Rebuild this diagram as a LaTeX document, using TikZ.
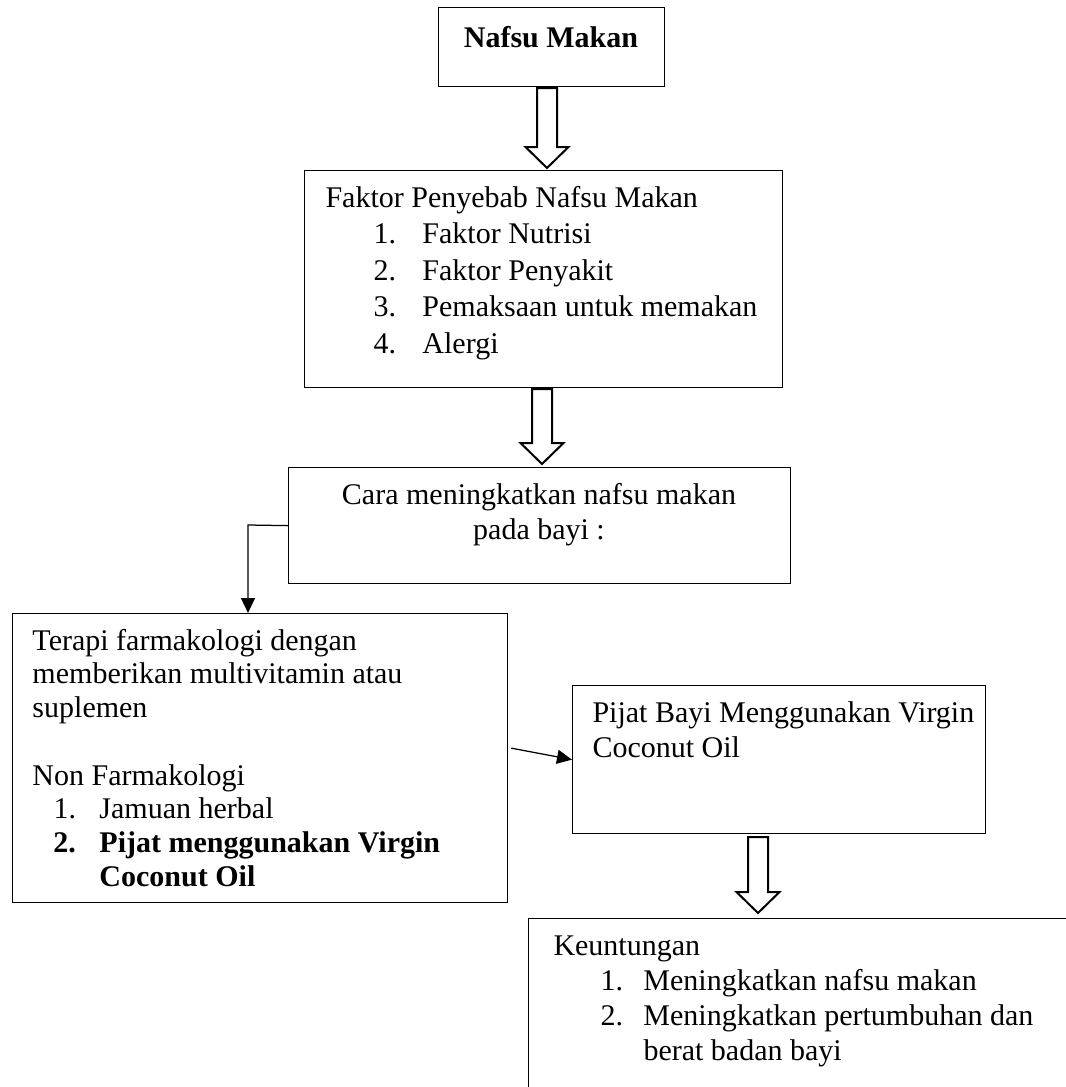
\documentclass[tikz,border=0pt]{standalone}
\usepackage{fontspec}
\setmainfont{Liberation Serif}
\usetikzlibrary{arrows.meta, positioning, calc}
\newdimen\pxu \pxu=0.4pt
\newcommand{\numitem}[4]{\hspace*{#1\pxu}\makebox[\dimexpr#2\pxu-#1\pxu\relax][l]{#3}#4}
\newcommand{\lines}[1]{\begin{tabular}[t]{@{}l@{}}#1\end{tabular}}

\begin{document}
\begin{tikzpicture}[x=0.4pt, y=-0.4pt,
    box/.style={draw, line width=0.5pt, inner sep=0pt, anchor=north west},
    txt/.style={inner sep=0pt, anchor=base west, font=\fontsize{12pt}{14pt}\selectfont},
    pointer/.style={line width=0.5pt, -{Triangle[length=6pt, width=5.6pt]}},
    hollow/.style={draw, line width=0.8pt, fill=white, line join=miter}]
  \clip (0,0) rectangle (1066,1087);
  % boxes
  \node[box, minimum width=90.4pt, minimum height=31.6pt] (nafsu) at (438,7) {};
  \node[box, minimum width=191.2pt, minimum height=86.8pt] (faktor) at (304,170) {};
  \node[box, minimum width=200.8pt, minimum height=46.4pt] (cara) at (288,467) {};
  \node[box, minimum width=198pt, minimum height=115.6pt] (terapi) at (12,613) {};
  \node[box, minimum width=165.2pt, minimum height=59.2pt] (pijat) at (572,685) {};
  \node[box, minimum width=224pt, minimum height=80pt] (untung) at (528,918) {};
  % texts
  \node[txt, anchor=base] (nafsuTxt) at (551,47) {\textbf{Nafsu Makan}};
  \node[txt, font=\fontsize{12pt}{14.6pt}\selectfont] (faktorTxt) at (325,207) {\lines{Faktor Penyebab Nafsu Makan\\
      \numitem{48}{97}{1.}{Faktor Nutrisi}\\
      \numitem{48}{97}{2.}{Faktor Penyakit}\\
      \numitem{48}{97}{3.}{Pemaksaan untuk memakan}\\
      \numitem{48}{97}{4.}{Alergi}}};
  \node[txt, anchor=base] (caraTxt) at (539,504)
    {\begin{tabular}[t]{@{}c@{}}Cara meningkatkan nafsu makan\\ pada bayi :\end{tabular}};
  \node[txt, font=\fontsize{12pt}{13.5pt}\selectfont] (terapiTxt) at (32,650) {\lines{Terapi farmakologi dengan\\
      memberikan multivitamin atau\\
      suplemen\\
      \\
      Non Farmakologi\\
      \numitem{21}{67}{1.}{Jamuan herbal}\\
      \textbf{\numitem{21}{67}{2.}{Pijat menggunakan Virgin}}\\
      \hspace*{67\pxu}\textbf{Coconut Oil}}};
  \node[txt] (pijatTxt) at (592,722) {\lines{Pijat Bayi Menggunakan Virgin\\ Coconut Oil}};
  \node[txt] (untungTxt) at (553,955) {\lines{Keuntungan\\
      \numitem{47}{90}{1.}{Meningkatkan nafsu makan}\\
      \numitem{47}{90}{2.}{Meningkatkan pertumbuhan dan}\\
      \hspace*{90\pxu}berat badan bayi}};
  % connectors
  \foreach \ax/\at/\ab in {547/88/168, 542/389/464, 758/837/913}
    \draw[hollow] (\ax-10,\at) -- (\ax+10,\at) -- (\ax+10,\ab-21) -- (\ax+21.5,\ab-21)
      -- (\ax,\ab) -- (\ax-21.5,\ab-21) -- (\ax-10,\ab-21) -- cycle;
  \coordinate (bend) at (248,525);
  \draw[pointer] (cara.west) -- (bend) -- (bend |- terapi.north);
  \draw[pointer] ($(terapi.east)+(3,-10)$) -- (pijat.west);
\end{tikzpicture}
\end{document}
